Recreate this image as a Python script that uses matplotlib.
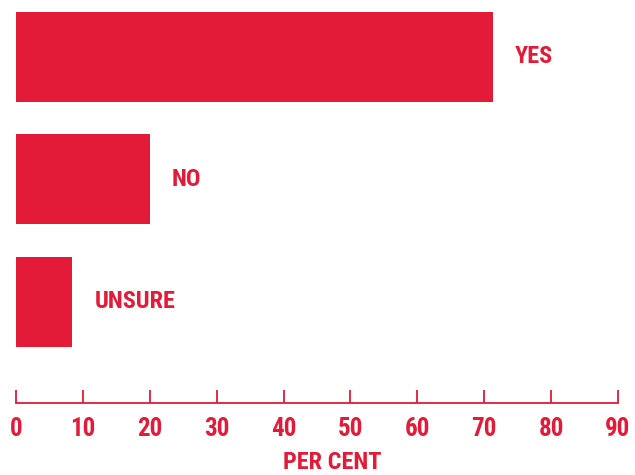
import matplotlib
matplotlib.use("Agg")
import matplotlib.pyplot as plt

# Survey responses (per cent)
categories = ["YES", "NO", "UNSURE"]
values = [71.3, 20.0, 8.4]
ticks = [0, 10, 20, 30, 40, 50, 60, 70, 80, 90]

RED = "#E31A38"
FONT = ["Roboto Condensed", "Liberation Sans Narrow", "Roboto", "DejaVu Sans"]
plt.rcParams["font.family"] = FONT
plt.rcParams["font.weight"] = "bold"

fig = plt.figure(figsize=(6.35, 4.75), dpi=100)
ax = fig.add_axes([16 / 635, 72 / 475, 602 / 635, 403 / 475])

pos = list(range(len(categories)))
ax.barh(pos, values, height=0.734, color=RED, edgecolor="none")

for p, v, c in zip(pos, values, categories):
    ax.annotate(c, xy=(v, p), xytext=(16, 0), textcoords="offset points",
                va="center", ha="left", color=RED, fontsize=17.5,
                fontweight="bold", fontstretch="condensed")

ax.set_xlim(0, 90)
ax.set_ylim(2.826, -0.461)
ax.set_xticks(ticks)
ax.set_xticklabels([str(t) for t in ticks])
ax.set_yticks([])

for side in ("left", "top", "right"):
    ax.spines[side].set_visible(False)
ax.spines["bottom"].set_color(RED)
ax.spines["bottom"].set_linewidth(1.3)

ax.tick_params(axis="x", direction="in", length=9.5, width=1.3, color=RED,
               labelcolor=RED, labelsize=18, pad=10)
for lbl in ax.get_xticklabels():
    lbl.set_fontweight("bold")
    lbl.set_fontstretch("condensed")

ax.set_xlabel("PER CENT", color=RED, fontsize=17.5, fontweight="bold",
              fontstretch="condensed", va="bottom")
ax.xaxis.set_label_coords(316 / 602, -71 / 403)

fig.savefig("out.png", dpi=100)
